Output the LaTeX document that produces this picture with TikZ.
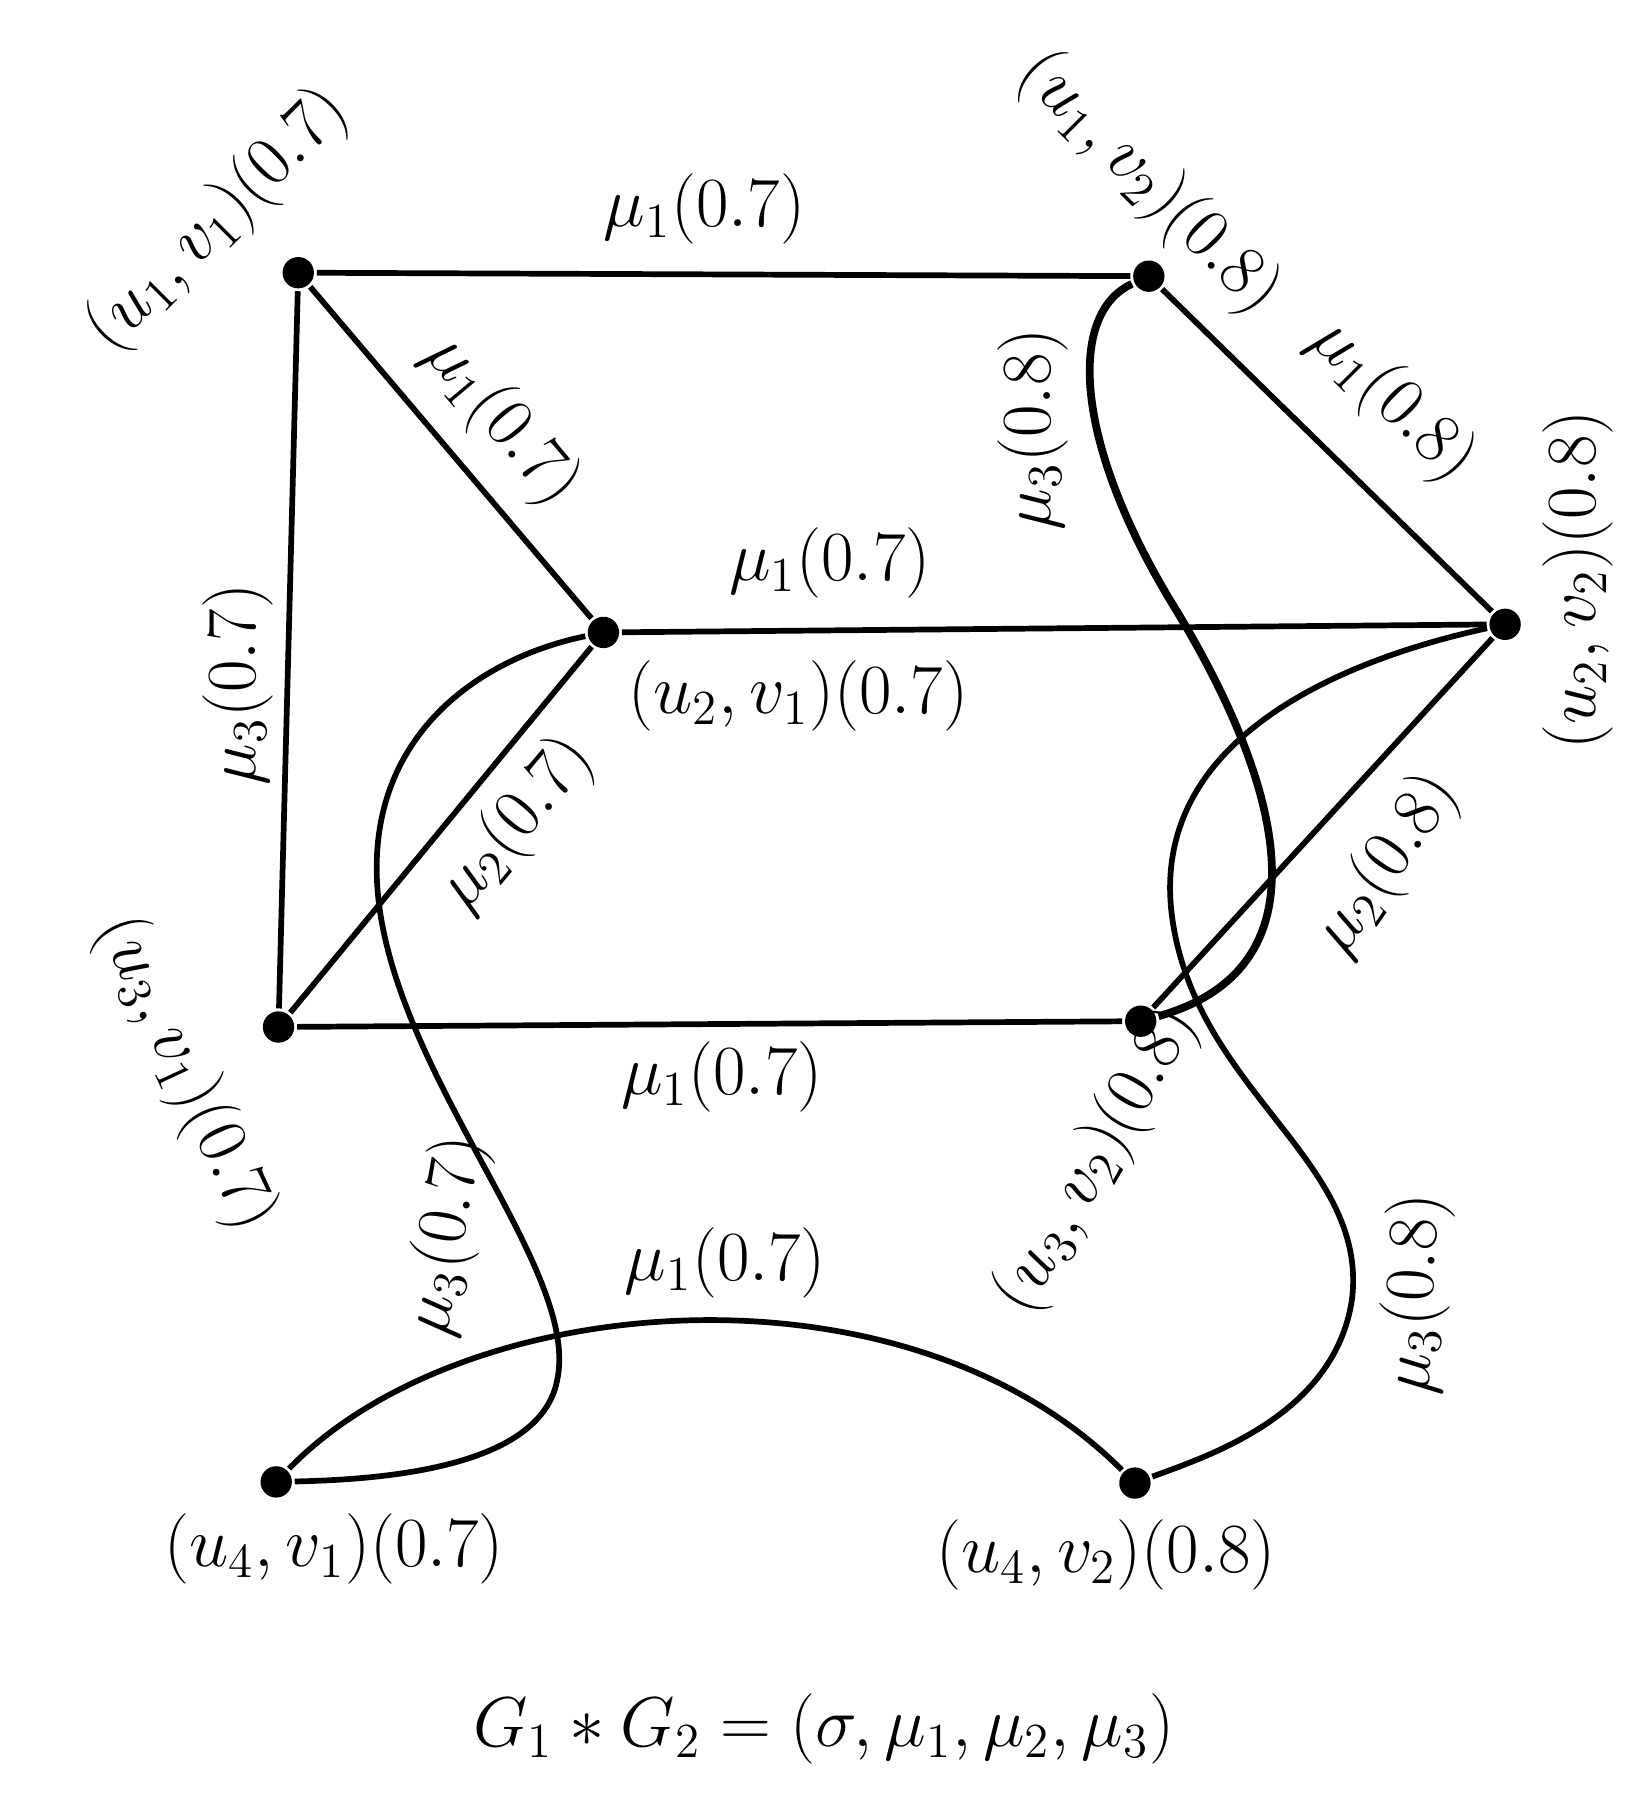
\documentclass[tikz,border=0pt]{standalone}
\begin{document}
\begin{tikzpicture}[x=0.01cm,y=-0.01cm,line width=1.4pt,
  vtx/.style={circle,fill=black,inner sep=0pt,minimum size=0.27cm},
  lab/.style={font=\fontsize{18}{21}\selectfont,inner sep=1pt}]
\useasboundingbox (0,0) rectangle (1414,1552);
\node[vtx] (a) at (257,235) {};
\node[vtx] (b) at (990,238) {};
\node[vtx] (c) at (520,545) {};
\node[vtx] (d) at (1297,538) {};
\node[vtx] (e) at (240,885) {};
\node[vtx] (f) at (983,880) {};
\node[vtx] (g) at (238,1277) {};
\node[vtx] (h) at (978,1278) {};
\draw (a)--(b) (a)--(c) (a)--(e) (c)--(d) (c)--(e) (e)--(f) (b)--(d) (f)--(d);
\draw[line width=1.9pt] (b) .. controls (920,270) and (925,380) .. (1010,520) .. controls (1090,650) and (1160,830) .. (f);
\draw (c) .. controls (400,570) and (300,650) .. (330,800) .. controls (360,950) and (500,1100) .. (480,1190) .. controls (465,1265) and (330,1275) .. (g);
\draw (d) .. controls (1150,570) and (990,640) .. (1010,790) .. controls (1030,940) and (1180,1000) .. (1165,1120) .. controls (1150,1220) and (1040,1255) .. (h);
\draw (g) .. controls (400,1110) and (780,1080) .. (h);
\node[lab,rotate=45] (la) at (188,190) {$(u_1,v_1)(0.7)$};
\node[lab,rotate=-45] (lb) at (990,158) {$(u_1,v_2)(0.8)$};
\node[lab,rotate=90] (ld) at (1360,500) {$(u_2,v_2)(0.8)$};
\node[lab,rotate=-65] (le) at (160,925) {$(u_3,v_1)(0.7)$};
\node[lab,rotate=60] (lf) at (945,1000) {$(u_3,v_2)(0.8)$};
\node[lab] (lc) at (688,600) {$(u_2,v_1)(0.7)$};
\node[lab] (lg) at (288,1335) {$(u_4,v_1)(0.7)$};
\node[lab] (lh) at (953,1340) {$(u_4,v_2)(0.8)$};
\node[lab] (e1) at (607,180) {$\mu_1(0.7)$};
\node[lab,rotate=-50] (e2) at (432,362) {$\mu_1(0.7)$};
\node[lab,rotate=90] (e3) at (205,590) {$\mu_3(0.7)$};
\node[lab] (e4) at (715,485) {$\mu_1(0.7)$};
\node[lab,rotate=50] (e5) at (445,710) {$\mu_2(0.7)$};
\node[lab] (e6) at (622,928) {$\mu_1(0.7)$};
\node[lab,rotate=90] (e7) at (890,370) {$\mu_3(0.8)$};
\node[lab,rotate=-45] (e8) at (1200,345) {$\mu_1(0.8)$};
\node[lab,rotate=55] (e9) at (1195,745) {$\mu_2(0.8)$};
\node[lab,rotate=80] (e10) at (385,1065) {$\mu_3(0.7)$};
\node[lab] (e11) at (625,1088) {$\mu_1(0.7)$};
\node[lab,rotate=87] (e12) at (1220,1115) {$\mu_3(0.8)$};
\node[lab] (cap) at (710,1490) {$G_1*G_2=(\sigma,\mu_1,\mu_2,\mu_3)$};
\end{tikzpicture}
\end{document}
